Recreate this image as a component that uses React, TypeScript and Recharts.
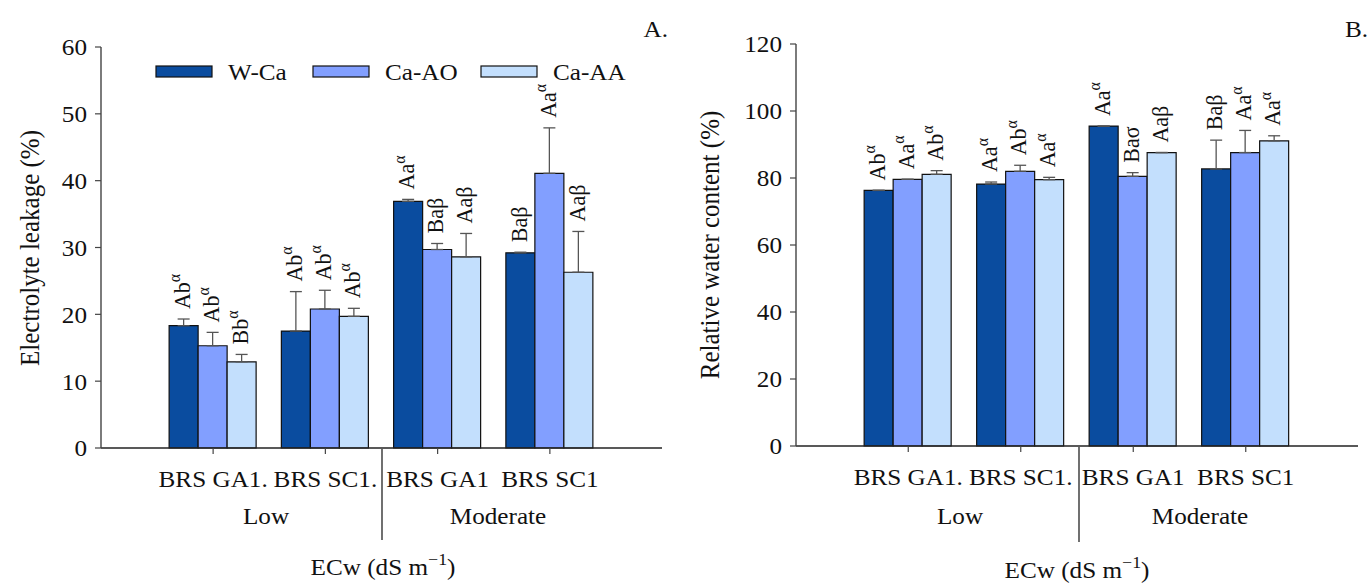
import { Bar, BarChart, ErrorBar, LabelList, Legend, XAxis, YAxis } from "recharts";

const groups = ["BRS GA1.", "BRS SC1.", "BRS GA1", "BRS SC1"];
const seriesNames = ["W-Ca", "Ca-AO", "Ca-AA"];
const seriesColors = ["#0A4C9F", "#829FFF", "#C3DFFD"];

// A. electrolyte leakage (%)
const leakWCa = [18.3, 17.5, 36.9, 29.2];
const leakAO = [15.3, 20.8, 29.7, 41.1];
const leakAA = [12.9, 19.7, 28.6, 26.3];
const leakWCaErr = [1.0, 5.9, 0.3, 0.1];
const leakAOErr = [2.0, 2.8, 0.9, 6.8];
const leakAAErr = [1.1, 1.2, 3.5, 6.1];
const leakWCaSig = ["Ab^α", "Ab^α", "Aa^α", "Baβ"];
const leakAOSig = ["Ab^α", "Ab^α", "Baβ", "Aa^α"];
const leakAASig = ["Bb^α", "Ab^α", "Aaβ", "Aaβ"];
const leakTicks = [0, 10, 20, 30, 40, 50, 60];

// B. relative water content (%)
const rwcWCa = [76.3, 78.2, 95.5, 82.7];
const rwcAO = [79.6, 82.0, 80.5, 87.6];
const rwcAA = [81.1, 79.5, 87.6, 91.1];
const rwcWCaErr = [0, 0.6, 0, 8.6];
const rwcAOErr = [0, 1.8, 1.1, 6.6];
const rwcAAErr = [1.1, 0.7, 0, 1.5];
const rwcWCaSig = ["Ab^α", "Aa^α", "Aa^α", "Baβ"];
const rwcAOSig = ["Aa^α", "Ab^α", "Baσ", "Aa^α"];
const rwcAASig = ["Ab^α", "Aa^α", "Aaβ", "Aa^α"];
const rwcTicks = [0, 20, 40, 60, 80, 100, 120];

const FONT = "'Liberation Serif', 'Times New Roman', serif";
const FS = 24;
const SX = 1.05;
const INK = "#111";
const AXIS = "#444";

function buildRows(vals: number[][], errs: number[][], sigs: string[][]) {
  return groups.map((g, i) => ({
    group: g,
    wca: vals[0][i],
    ao: vals[1][i],
    aa: vals[2][i],
    wcaErr: [0, errs[0][i]],
    aoErr: [0, errs[1][i]],
    aaErr: [0, errs[2][i]],
    wcaSig: sigs[0][i],
    aoSig: sigs[1][i],
    aaSig: sigs[2][i],
  }));
}

const leakRows = buildRows(
  [leakWCa, leakAO, leakAA],
  [leakWCaErr, leakAOErr, leakAAErr],
  [leakWCaSig, leakAOSig, leakAASig]
);
const rwcRows = buildRows(
  [rwcWCa, rwcAO, rwcAA],
  [rwcWCaErr, rwcAOErr, rwcAAErr],
  [rwcWCaSig, rwcAOSig, rwcAASig]
);

function SigText({ text, size }: { text: string; size: number }) {
  const [main, sup] = text.split("^");
  return (
    <>
      {main}
      {sup ? (
        <tspan fontSize={size * 0.72} dy={-size * 0.42}>
          {sup}
        </tspan>
      ) : null}
    </>
  );
}

// label sits above the error bar, rotated
const sigLabel = (vals: number[], errs: number[]) => (props: any) => {
  const vb = props.viewBox && props.viewBox.width != null ? props.viewBox : props;
  const { x, y, width, height } = vb;
  const i = props.index;
  const v = vals[i];
  const errPx = v ? (errs[i] * Math.abs(height)) / v : 0;
  const cx = x + width / 2 - 2;
  const top = Math.min(y, y + height) - errPx - 10;
  const size = 22;
  return (
    <text
      transform={`translate(${cx},${top}) scale(${SX},1) rotate(-90)`}
      dy="0.36em"
      textAnchor="start"
      fontFamily={FONT}
      fontSize={size}
      fill={INK}
    >
      <SigText text={String(props.value)} size={size} />
    </text>
  );
};

const yTick = (props: any) => {
  const { x, y, payload } = props;
  return (
    <text
      transform={`translate(${x},${y}) scale(${SX},1)`}
      dy="0.35em"
      textAnchor="end"
      fontFamily={FONT}
      fontSize={FS}
      fill={INK}
    >
      {payload.value}
    </text>
  );
};

const xTick = (props: any) => {
  const { x, y, payload } = props;
  return (
    <text
      transform={`translate(${x},${y}) scale(${SX},1)`}
      dy={31}
      textAnchor="middle"
      fontFamily={FONT}
      fontSize={FS}
      fill={INK}
    >
      {payload.value}
    </text>
  );
};

const legendContent = () => {
  const starts = [0, 157, 325];
  return (
    <svg width={490} height={28}>
      {seriesNames.map((name, i) => (
        <g key={name} transform={`translate(${starts[i]},0)`}>
          <rect x={1} y={8} width={56} height={11} fill={seriesColors[i]} stroke={INK} strokeWidth={1.2} />
          <text
            transform={`translate(73,22) scale(${SX},1)`}
            fontFamily={FONT}
            fontSize={FS}
            fill={INK}
          >
            {name}
          </text>
        </g>
      ))}
    </svg>
  );
};

type PanelProps = {
  rows: any[];
  vals: number[][];
  errs: number[][];
  ticks: number[];
  width: number;
  margin: { top: number; right: number; bottom: number; left: number };
  showLegend?: boolean;
};

function Panel({ rows, vals, errs, ticks, width, margin, showLegend }: PanelProps) {
  const keys = ["wca", "ao", "aa"];
  const max = ticks[ticks.length - 1];
  return (
    <BarChart
      width={width}
      height={585}
      data={rows}
      margin={margin}
      barCategoryGap="10.8%"
      barGap={0}
    >
      <XAxis
        dataKey="group"
        padding={{ left: 56, right: 56 }}
        height={30}
        tickSize={6}
        tickLine={{ stroke: AXIS, strokeWidth: 1.2 }}
        axisLine={{ stroke: "#222", strokeWidth: 1.4 }}
        tick={xTick}
        interval={0}
      />
      <XAxis xAxisId="top" dataKey="group" orientation="top" height={0} tick={false} tickLine={false} axisLine={{ stroke: AXIS, strokeWidth: 1.2 }} />
      <YAxis
        domain={[0, max]}
        ticks={ticks}
        width={60}
        tickSize={6}
        tickMargin={8}
        tickLine={{ stroke: AXIS, strokeWidth: 1.2 }}
        axisLine={{ stroke: AXIS, strokeWidth: 1.4 }}
        tick={yTick}
      />
      <YAxis yAxisId="right" orientation="right" width={0} domain={[0, max]} tick={false} tickLine={false} axisLine={{ stroke: AXIS, strokeWidth: 1.2 }} />
      {showLegend ? (
        <Legend
          layout="horizontal"
          verticalAlign="middle"
          align="center"
          wrapperStyle={{ position: "absolute", top: 58, left: 155, width: 490, height: 28 }}
          content={legendContent}
        />
      ) : null}
      {keys.map((k, i) => (
        <Bar
          key={k}
          dataKey={k}
          name={seriesNames[i]}
          fill={seriesColors[i]}
          stroke={INK}
          strokeWidth={1.2}
          isAnimationActive={false}
        >
          <ErrorBar dataKey={`${k}Err`} width={6} stroke="#555" strokeWidth={1.3} direction="y" />
          <LabelList dataKey={`${k}Sig`} content={sigLabel(vals[i], errs[i])} />
        </Bar>
      ))}
    </BarChart>
  );
}

function Title({ x, y, children, anchor = "middle", rotate = false, size = FS }: any) {
  const t = rotate
    ? `translate(${x},${y}) scale(${SX},1) rotate(-90)`
    : `translate(${x},${y}) scale(${SX},1)`;
  return (
    <text transform={t} textAnchor={anchor} fontFamily={FONT} fontSize={size} fill={INK}>
      {children}
    </text>
  );
}

function ECw({ x, y }: { x: number; y: number }) {
  return (
    <Title x={x} y={y}>
      ECw (dS m
      <tspan fontSize={17} dy={-10}>
        −1
      </tspan>
      <tspan dy={10}>)</tspan>
    </Title>
  );
}

export default function App() {
  return (
    <div style={{ position: "absolute", left: 0, top: 0, width: 1370, height: 585, background: "#fff" }}>
      <div style={{ position: "absolute", left: 0, top: 0 }}>
        <Panel
          rows={leakRows}
          vals={[leakWCa, leakAO, leakAA]}
          errs={[leakWCaErr, leakAOErr, leakAAErr]}
          ticks={leakTicks}
          width={690}
          margin={{ top: 47, right: 28, bottom: 107, left: 41 }}
          showLegend
        />
      </div>
      <div style={{ position: "absolute", left: 690, top: 0 }}>
        <Panel
          rows={rwcRows}
          vals={[rwcWCa, rwcAO, rwcAA]}
          errs={[rwcWCaErr, rwcAOErr, rwcAAErr]}
          ticks={rwcTicks}
          width={680}
          margin={{ top: 44, right: 12, bottom: 109, left: 46 }}
        />
      </div>
      <svg
        width={1370}
        height={585}
        style={{ position: "absolute", left: 0, top: 0, pointerEvents: "none" }}
      >
        <Title x={668} y={37} anchor="end">A.</Title>
        <Title x={1368} y={37} anchor="end">B.</Title>
        <Title x={39} y={248} rotate size={25}>Electrolyte leakage (%)</Title>
        <Title x={719} y={245} rotate size={25}>Relative water content (%)</Title>
        <line x1={382} y1={449} x2={382} y2={540} stroke={INK} strokeWidth={1.2} />
        <line x1={1079} y1={447} x2={1079} y2={542} stroke={INK} strokeWidth={1.2} />
        <Title x={266} y={524}>Low</Title>
        <Title x={498} y={524}>Moderate</Title>
        <Title x={960} y={524}>Low</Title>
        <Title x={1200} y={524}>Moderate</Title>
        <ECw x={383} y={575} />
        <ECw x={1077} y={578} />
      </svg>
    </div>
  );
}
